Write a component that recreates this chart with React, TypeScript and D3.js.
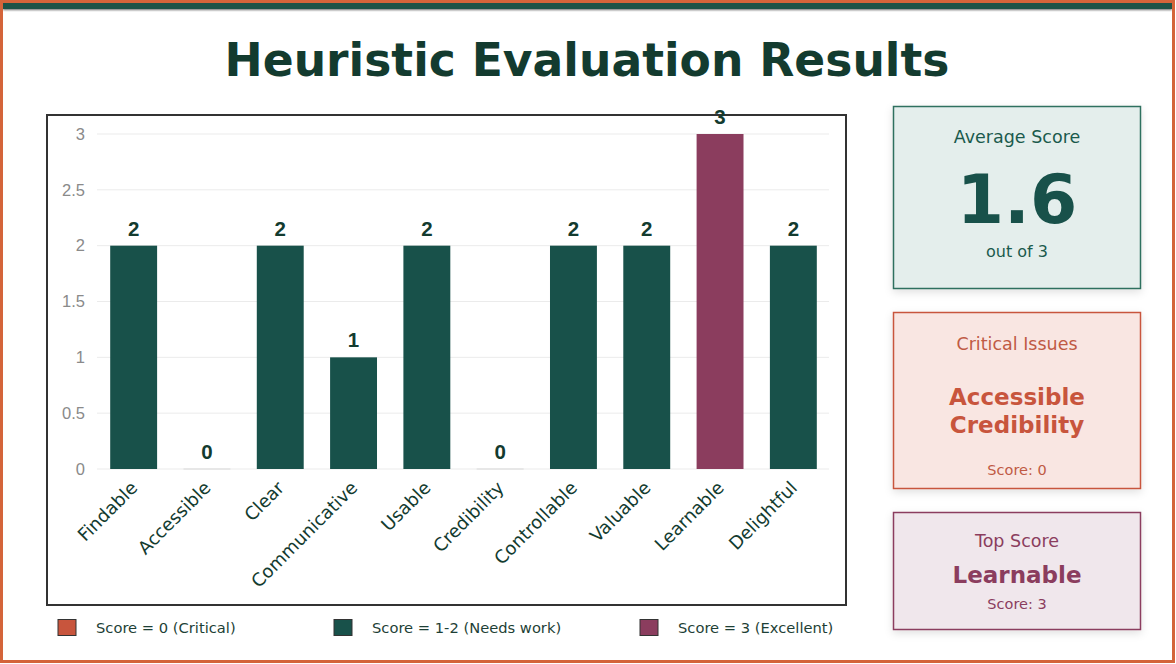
import React from "react";
import * as d3 from "d3";

const categories = ["Findable", "Accessible", "Clear", "Communicative", "Usable", "Credibility", "Controllable", "Valuable", "Learnable", "Delightful"];
const scores = [2, 0, 2, 1, 2, 0, 2, 2, 3, 2];
const yTicks = [0, 0.5, 1, 1.5, 2, 2.5, 3];
const legendLabels = ["Score = 0 (Critical)", "Score = 1-2 (Needs work)", "Score = 3 (Excellent)"];

const W = 1176;
const H = 664;
const ORANGE = "#D4643A";
const CRIT = "#C8553D";
const GREEN = "#18514A";
const PLUM = "#8B3D5E";
const TITLE = "#133B2F";
const DEJA = "'DejaVu Sans', sans-serif";
const ARIAL = "'Liberation Sans', Arial, sans-serif";

function colorFor(v: number) {
  if (v === 0) return CRIT;
  if (v === 3) return PLUM;
  return GREEN;
}

export default function App() {
  const x = d3.scaleBand<string>().domain(categories).range([97, 830]).paddingInner(0.36).paddingOuter(0.18);
  const y = d3.scaleLinear().domain([0, 3]).range([469, 134]);
  const avg = d3.mean(scores) ?? 0;
  const minV = d3.min(scores) ?? 0;
  const maxV = d3.max(scores) ?? 0;
  const critical = categories.filter((_, i) => scores[i] === minV);
  const top = categories.filter((_, i) => scores[i] === maxV);
  const cx = 1017;
  const legendColors = [CRIT, GREEN, PLUM];
  const legendX = [58, 334, 640];

  return (
    <svg width={W} height={H} style={{ position: "absolute", left: 0, top: 0, display: "block" }}>
      <defs>
        <filter id="shadow" x="-10%" y="-10%" width="120%" height="130%">
          <feDropShadow dx="0" dy="3" stdDeviation="4" floodColor="#000" floodOpacity="0.12" />
        </filter>
        <filter id="bandShadow" x="-5%" y="-50%" width="110%" height="300%">
          <feDropShadow dx="0" dy="1" stdDeviation="0.8" floodColor="#000" floodOpacity="0.6" />
        </filter>
      </defs>
      <rect x={0} y={0} width={W} height={H} fill="#fff" />
      <rect x={3} y={3} width={1169} height={6} fill="#1A5246" filter="url(#bandShadow)" />
      <rect x={1.5} y={1.5} width={1172} height={660} fill="none" stroke={ORANGE} strokeWidth={3} />

      <text x={587} y={76} textAnchor="middle" fontFamily={DEJA} fontWeight="bold" fontSize={45.6} fill={TITLE}>
        Heuristic Evaluation Results
      </text>

      {/* chart frame */}
      <rect x={47} y={115} width={799} height={490} fill="#fff" stroke="#333" strokeWidth={2} />

      {yTicks.map((t) => (
        <g key={t}>
          <line x1={97} x2={829} y1={y(t)} y2={y(t)} stroke="#ebebeb" strokeWidth={1} />
          <text x={85} y={y(t)} dy="0.35em" textAnchor="end" fontFamily={ARIAL} fontSize={16.5} fill="#8a8a8a">
            {t}
          </text>
        </g>
      ))}

      {categories.map((c, i) => {
        const v = scores[i];
        const bx = x(c)!;
        const bw = x.bandwidth();
        const mid = bx + bw / 2;
        return (
          <g key={c}>
            {v > 0 ? (
              <rect x={bx} y={y(v)} width={bw} height={y(0) - y(v)} fill={colorFor(v)} />
            ) : (
              <line x1={bx} x2={bx + bw} y1={y(0)} y2={y(0)} stroke="#e2e2e2" strokeWidth={1.5} />
            )}
            <text x={mid} y={y(v) - 10} textAnchor="middle" fontFamily={ARIAL} fontWeight="bold" fontSize={20.5} fill={TITLE}>
              {v}
            </text>
            <text
              transform={`translate(${mid + 5},${489}) rotate(-45)`}
              textAnchor="end"
              fontFamily={DEJA}
              fontSize={18}
              fill={TITLE}
            >
              {c}
            </text>
          </g>
        );
      })}

      {/* legend */}
      {legendLabels.map((l, i) => (
        <g key={l}>
          <rect x={legendX[i]} y={619.5} width={18} height={16} fill={legendColors[i]} stroke="#333" strokeWidth={1} />
          <text x={legendX[i] + 38} y={633} fontFamily={DEJA} fontSize={14.7} fill="#1E3F36">
            {l}
          </text>
        </g>
      ))}

      {/* Average card */}
      <rect x={893.5} y={106.5} width={247} height={182} fill="#E4EEEC" stroke="#2F6F5F" strokeWidth={1.5} filter="url(#shadow)" />
      <text x={cx} y={143} textAnchor="middle" fontFamily={DEJA} fontSize={17.5} fill="#1A5A4C">Average Score</text>
      <text x={cx} y={223} textAnchor="middle" fontFamily={DEJA} fontWeight="bold" fontSize={68} fill={GREEN}>
        {avg.toFixed(1)}
      </text>
      <text x={cx} y={257} textAnchor="middle" fontFamily={DEJA} fontSize={16} fill="#1A5A4C">out of {maxV}</text>

      {/* Critical card */}
      <rect x={893.5} y={312.5} width={247} height={176} fill="#F9E6E2" stroke={CRIT} strokeWidth={1.5} filter="url(#shadow)" />
      <text x={cx} y={350} textAnchor="middle" fontFamily={DEJA} fontSize={17.5} fill="#C05A44">Critical Issues</text>
      {critical.map((c, i) => (
        <text key={c} x={cx} y={405 + i * 27.5} textAnchor="middle" fontFamily={DEJA} fontWeight="bold" fontSize={23} fill={CRIT}>
          {c}
        </text>
      ))}
      <text x={cx} y={475} textAnchor="middle" fontFamily={DEJA} fontSize={14.5} fill="#C05A44">Score: {minV}</text>

      {/* Top card */}
      <rect x={893.5} y={512.5} width={247} height={117} fill="#F0E7EC" stroke={PLUM} strokeWidth={1.5} filter="url(#shadow)" />
      <text x={cx} y={547} textAnchor="middle" fontFamily={DEJA} fontSize={17.5} fill={PLUM}>Top Score</text>
      {top.map((c) => (
        <text key={c} x={cx} y={583} textAnchor="middle" fontFamily={DEJA} fontWeight="bold" fontSize={23} fill={PLUM}>
          {c}
        </text>
      ))}
      <text x={cx} y={609} textAnchor="middle" fontFamily={DEJA} fontSize={14.5} fill={PLUM}>Score: {maxV}</text>
    </svg>
  );
}
